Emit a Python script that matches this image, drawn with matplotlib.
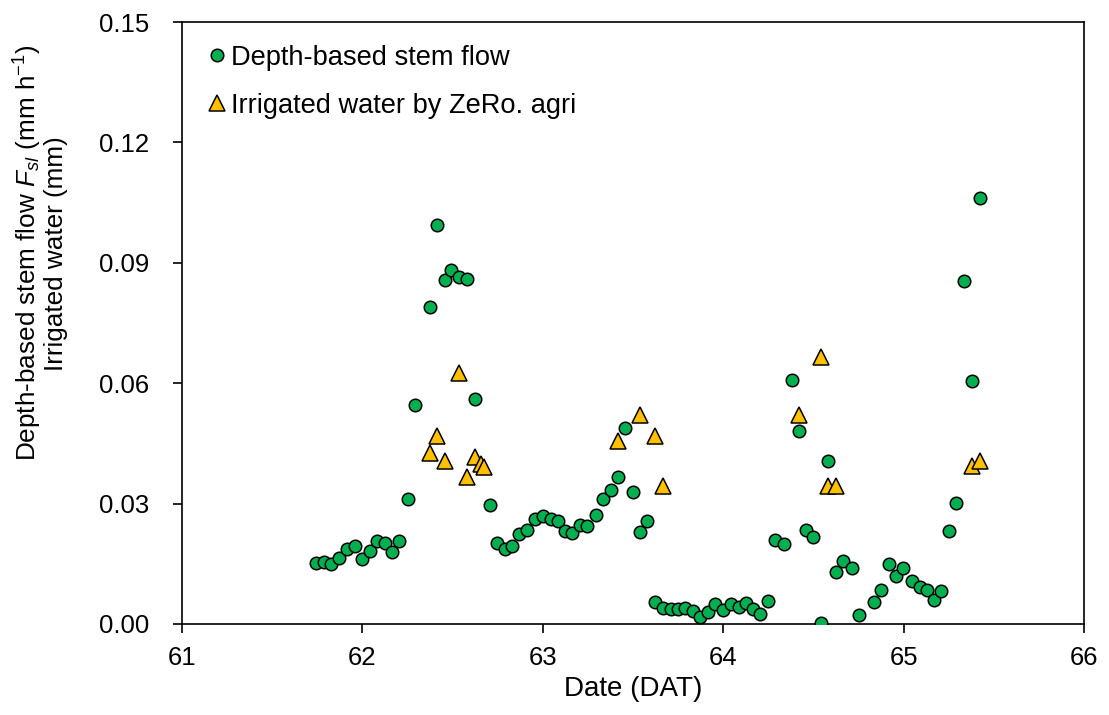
import matplotlib
matplotlib.use("Agg")
import matplotlib.pyplot as plt
from matplotlib.ticker import FormatStrFormatter

plt.rcParams["font.family"] = ["Liberation Sans", "DejaVu Sans"]
plt.rcParams["mathtext.fontset"] = "custom"
plt.rcParams["mathtext.rm"] = "Liberation Sans"
plt.rcParams["mathtext.it"] = "Liberation Sans:italic"

# Depth-based stem flow (mm h-1), hourly readings
flow_dat = [
    61.744, 61.786, 61.827, 61.869, 61.915, 61.958, 61.998, 62.039, 62.080, 62.122,
    62.163, 62.202, 62.251, 62.290, 62.375, 62.414, 62.455, 62.493, 62.535, 62.578,
    62.626, 62.705, 62.746, 62.788, 62.829, 62.868, 62.910, 62.958, 63.001, 63.043,
    63.084, 63.122, 63.163, 63.204, 63.246, 63.294, 63.335, 63.375, 63.416, 63.457,
    63.497, 63.538, 63.579, 63.619, 63.667, 63.708, 63.748, 63.789, 63.831, 63.872,
    63.913, 63.953, 63.997, 64.040, 64.084, 64.125, 64.166, 64.204, 64.246, 64.286,
    64.335, 64.378, 64.418, 64.458, 64.498, 64.538, 64.579, 64.621, 64.662, 64.710,
    64.750, 64.832, 64.874, 64.915, 64.955, 64.996, 65.044, 65.086, 65.125, 65.166,
    65.207, 65.248, 65.290, 65.330, 65.378, 65.419,
]
flow_val = [
    0.0151, 0.0154, 0.0149, 0.0165, 0.0187, 0.0194, 0.0161, 0.0183, 0.0206, 0.0202,
    0.0179, 0.0206, 0.0311, 0.0546, 0.0791, 0.0995, 0.0857, 0.0882, 0.0864, 0.0860,
    0.0561, 0.0297, 0.0203, 0.0187, 0.0194, 0.0225, 0.0235, 0.0262, 0.0269, 0.0261,
    0.0257, 0.0232, 0.0226, 0.0246, 0.0243, 0.0272, 0.0311, 0.0334, 0.0366, 0.0488,
    0.0330, 0.0228, 0.0257, 0.0056, 0.0040, 0.0037, 0.0037, 0.0040, 0.0033, 0.0017,
    0.0029, 0.0049, 0.0036, 0.0049, 0.0043, 0.0053, 0.0037, 0.0025, 0.0058, 0.0209,
    0.0199, 0.0608, 0.0481, 0.0234, 0.0217, 0.0003, 0.0406, 0.0129, 0.0158, 0.0140,
    0.0022, 0.0056, 0.0085, 0.0150, 0.0120, 0.0140, 0.0107, 0.0093, 0.0085, 0.0060,
    0.0081, 0.0232, 0.0301, 0.0854, 0.0605, 0.1062,
]

# Irrigation events logged by the ZeRo. agri controller (mm)
irr_dat = [
    62.375, 62.414, 62.455, 62.535, 62.578, 62.626, 62.658, 62.672,
    63.416, 63.538, 63.619, 63.667,
    64.418, 64.538, 64.579, 64.621,
    65.378, 65.419,
]
irr_val = [
    0.0426, 0.0468, 0.0406, 0.0626, 0.0366, 0.0417, 0.0398, 0.0390,
    0.0456, 0.0520, 0.0468, 0.0343,
    0.0520, 0.0666, 0.0344, 0.0344,
    0.0394, 0.0407,
]

x_ticks = [61, 62, 63, 64, 65, 66]
y_ticks = [0.00, 0.03, 0.06, 0.09, 0.12, 0.15]

fig = plt.figure(figsize=(11.09, 7.15), dpi=100)
ax = fig.add_axes([0.1641, 0.1273, 0.8138, 0.8419])

ax.plot(flow_dat, flow_val, linestyle="none", marker="o", markersize=9,
        markerfacecolor="#00B050", markeredgecolor="black", markeredgewidth=1.1,
        label="Depth-based stem flow", zorder=3)
ax.plot(irr_dat, irr_val, linestyle="none", marker="^", markersize=11,
        markerfacecolor="#FFC000", markeredgecolor="black", markeredgewidth=1.1,
        label="Irrigated water by ZeRo. agri", zorder=4)

ax.set_xlim(61, 66)
ax.set_ylim(0, 0.15)
ax.set_xticks(x_ticks)
ax.set_yticks(y_ticks)
ax.yaxis.set_major_formatter(FormatStrFormatter("%.2f"))
ax.tick_params(direction="out", length=6.5, width=1.2, labelsize=18.5)
ax.tick_params(axis="x", pad=9)
ax.tick_params(axis="y", pad=17)
for side in ["left", "bottom", "top", "right"]:
    ax.spines[side].set_linewidth(1.2)

ax.set_xlabel("Date (DAT)", fontsize=20, labelpad=5)
ax.set_ylabel("Depth-based stem flow $\\mathit{F}_{\\mathit{sl}}$ (mm h$^{-1}$)\nIrrigated water (mm)",
              fontsize=18.8, linespacing=1.0)
ax.yaxis.set_label_coords(-0.126, 0.616)

ax.legend(loc="upper left", bbox_to_anchor=(0.0, 1.0), frameon=False,
          fontsize=19.6, handletextpad=0.05, labelspacing=0.8,
          markerscale=1.0, borderaxespad=0.44, handlelength=0.9)

fig.savefig("out.png", dpi=100)
